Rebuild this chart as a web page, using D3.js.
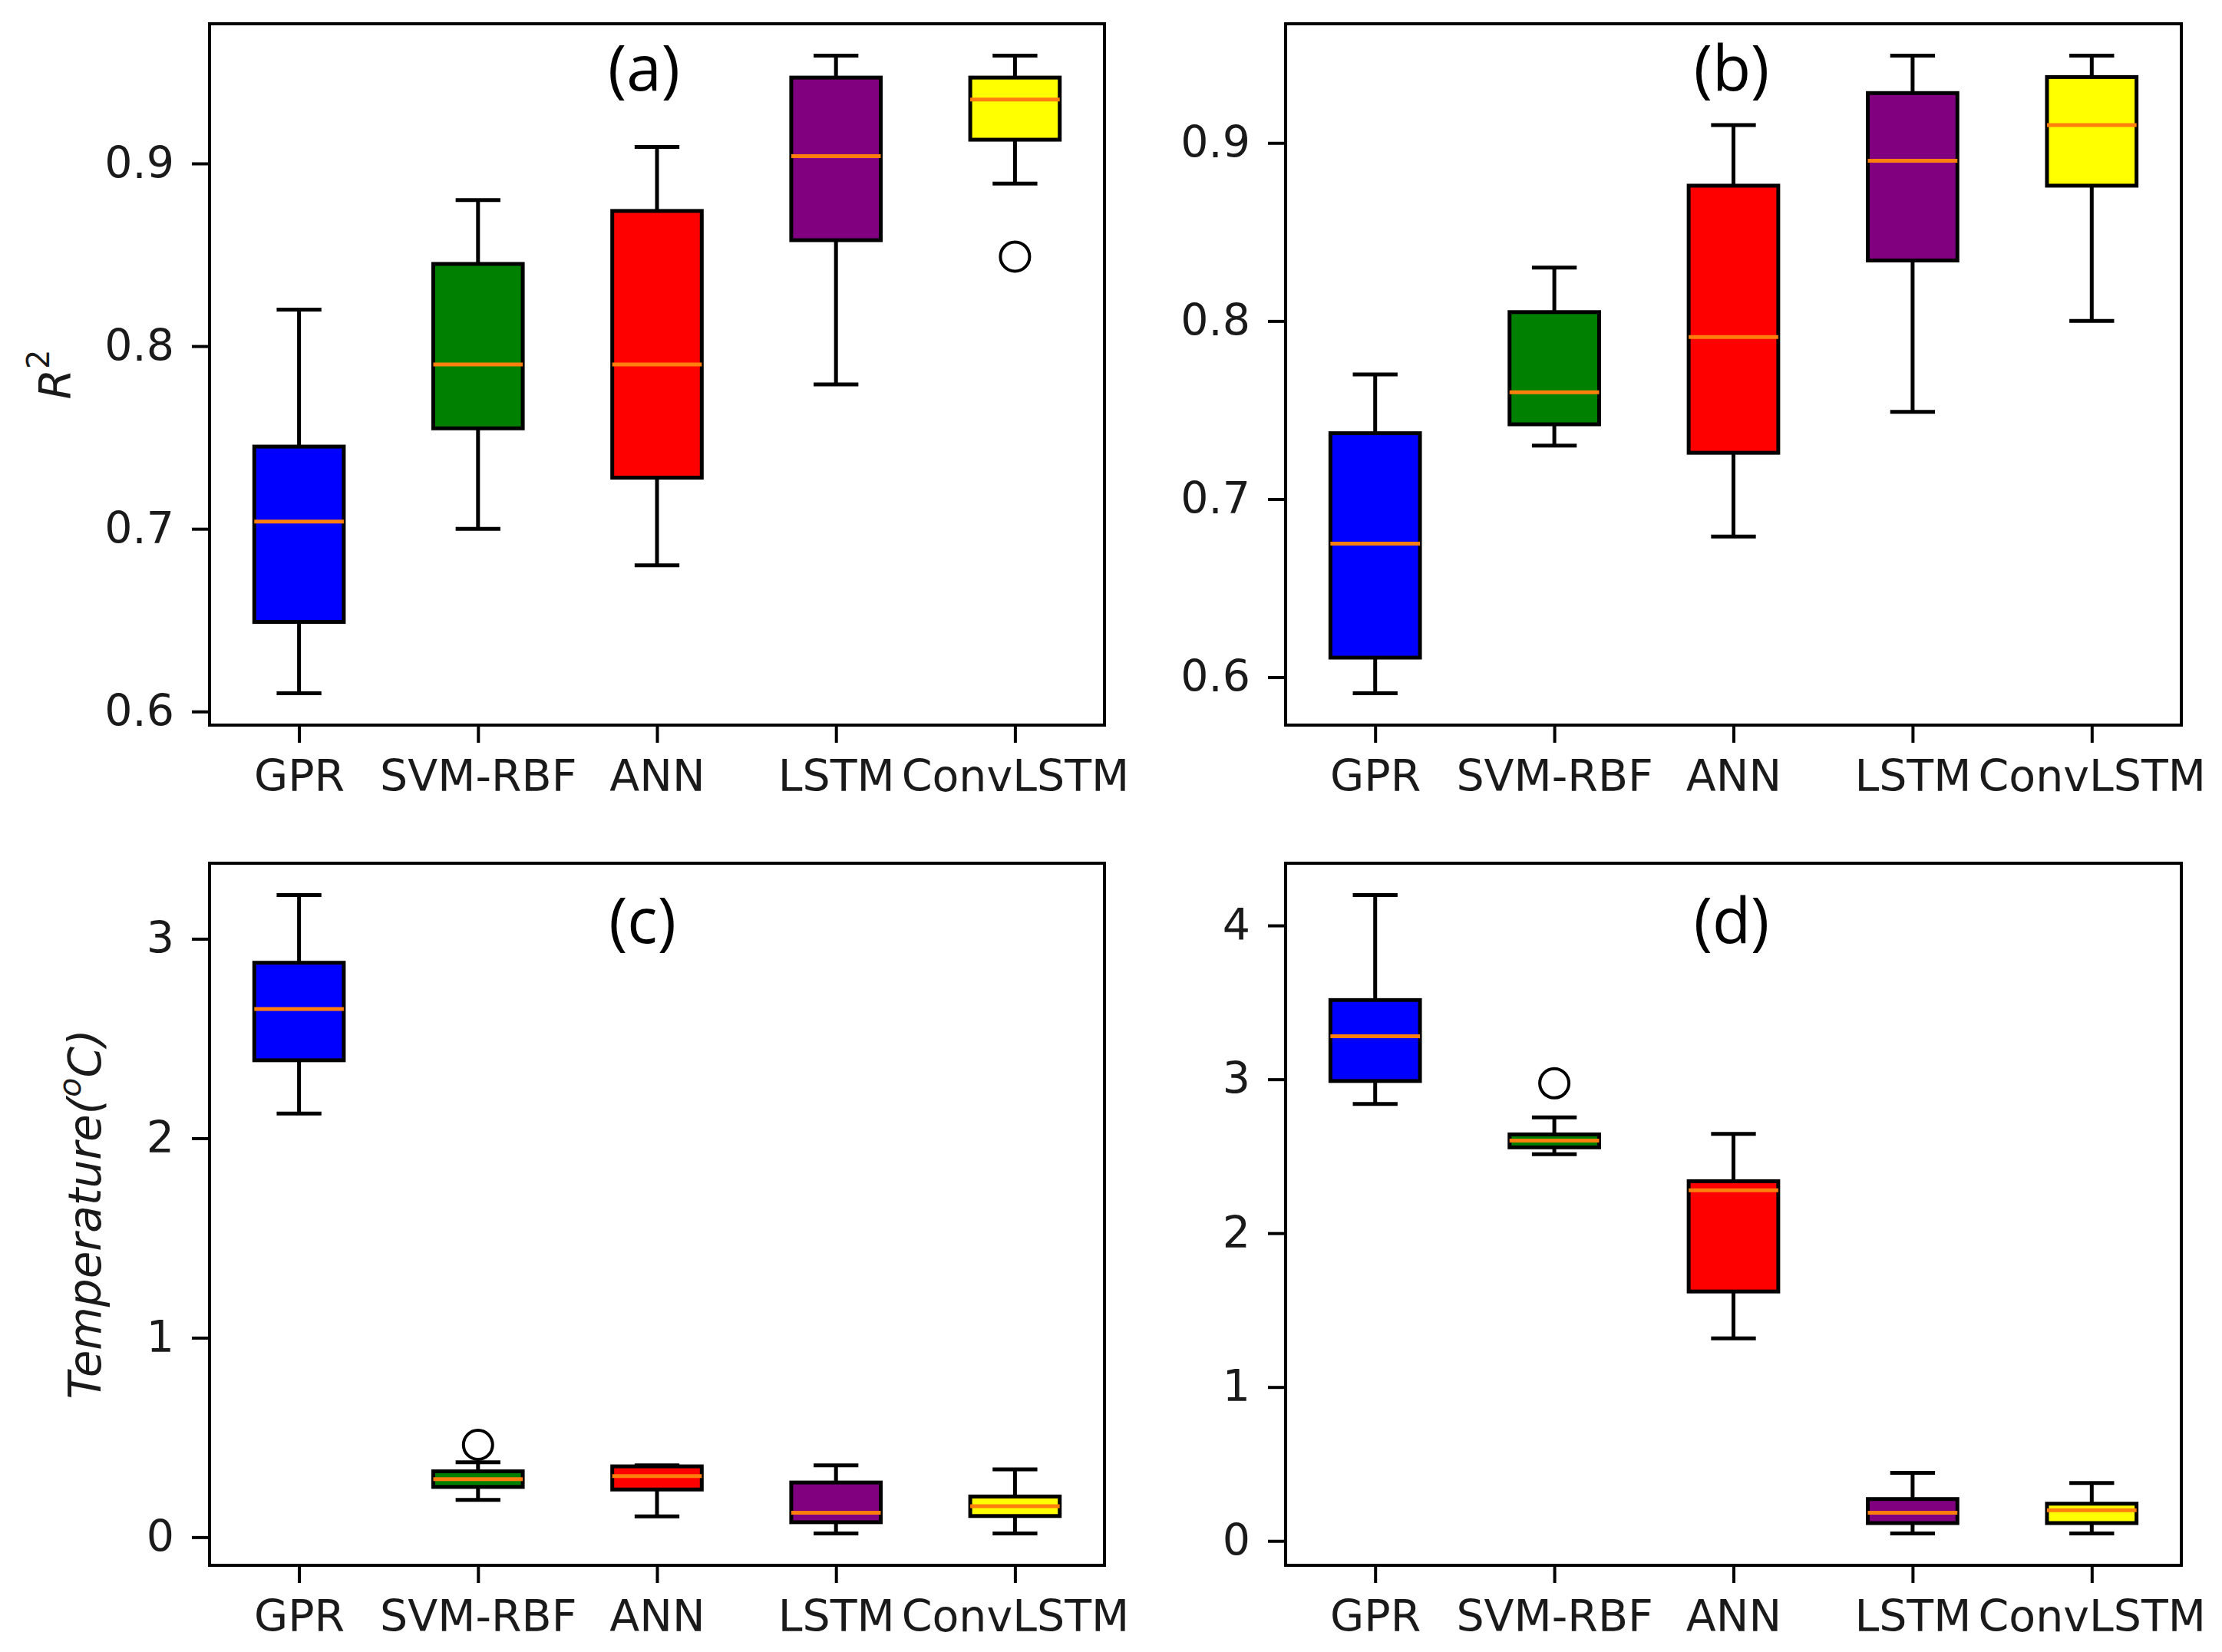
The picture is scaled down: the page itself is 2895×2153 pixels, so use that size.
<!DOCTYPE html>
<html>
<head>
<meta charset="utf-8">
<script src="https://cdn.jsdelivr.net/npm/d3@7"></script>
<style>
  body { margin: 0; background: #fff; }
  .tick text { font-family: "DejaVu Sans", sans-serif; fill: #1a1a1a; }
</style>
</head>
<body>
<div id="chart"></div>
<script>
// model names and fill colours
const models = ["GPR", "SVM-RBF", "ANN", "LSTM", "ConvLSTM"];
const boxColors = ["#0000ff", "#008000", "#ff0000", "#800080", "#ffff00"];

// five-number summaries per model: [low whisker, q1, median, q3, high whisker]
const statsA = [
    [0.610, 0.649, 0.704, 0.745, 0.820],
    [0.700, 0.755, 0.790, 0.845, 0.880],
    [0.680, 0.728, 0.790, 0.874, 0.909],
    [0.779, 0.858, 0.904, 0.947, 0.959],
    [0.889, 0.913, 0.935, 0.947, 0.959]
];
const outliersA = [[], [], [], [], [0.849]];

const statsB = [
    [0.591, 0.611, 0.675, 0.737, 0.770],
    [0.730, 0.742, 0.760, 0.805, 0.830],
    [0.679, 0.726, 0.791, 0.876, 0.910],
    [0.749, 0.834, 0.890, 0.928, 0.949],
    [0.800, 0.876, 0.910, 0.937, 0.949]
];
const outliersB = [[], [], [], [], []];

const statsC = [
    [2.124, 2.391, 2.648, 2.880, 3.219],
    [0.187, 0.252, 0.291, 0.330, 0.375],
    [0.104, 0.239, 0.306, 0.355, 0.360],
    [0.019, 0.075, 0.123, 0.274, 0.360],
    [0.019, 0.106, 0.155, 0.204, 0.340]
];
const outliersC = [[], [0.463], [], [], []];

const statsD = [
    [2.840, 2.989, 3.280, 3.515, 4.197],
    [2.513, 2.558, 2.602, 2.642, 2.753],
    [1.316, 1.621, 2.279, 2.338, 2.645],
    [0.049, 0.116, 0.183, 0.272, 0.443],
    [0.049, 0.116, 0.200, 0.242, 0.376]
];
const outliersD = [[], [2.974], [], [], []];

// y tick values
const ticksR2 = [0.6, 0.7, 0.8, 0.9];
const ticksC = [0, 1, 2, 3];
const ticksD = [0, 1, 2, 3, 4];

const panelLabels = ["(a)", "(b)", "(c)", "(d)"];

const width = 2895;
const height = 2153;

// frame boxes of the four axes, in pixels
const layout = [
    {x0: 273, x1: 1439, y0: 31, y1: 945, lx: 839, ly: 118},
    {x0: 1675, x1: 2842, y0: 31, y1: 945, lx: 2256, ly: 118},
    {x0: 273, x1: 1439, y0: 1125, y1: 2040, lx: 837, ly: 1229},
    {x0: 1675, x1: 2842, y0: 1125, y1: 2040, lx: 2256, ly: 1229}
];

const panels = [
    {stats: statsA, outliers: outliersA, ticks: ticksR2, fmt: d3.format(".1f")},
    {stats: statsB, outliers: outliersB, ticks: ticksR2, fmt: d3.format(".1f")},
    {stats: statsC, outliers: outliersC, ticks: ticksC, fmt: d3.format("d")},
    {stats: statsD, outliers: outliersD, ticks: ticksD, fmt: d3.format("d")}
];

const svg = d3.select("#chart")
    .append("svg")
    .attr("width", width)
    .attr("height", height)
    .style("background", "#fff");

panels.forEach((p, i) => {
    const box = layout[i];
    const g = svg.append("g");

    const x = d3.scalePoint()
        .domain(models)
        .range([box.x0, box.x1])
        .padding(0.5);

    // same 5% margin matplotlib puts around the data
    const allVals = p.stats.flat().concat(p.outliers.flat());
    const lo = d3.min(allVals), hi = d3.max(allVals);
    const pad = (hi - lo) * 0.05;
    const y = d3.scaleLinear()
        .domain([lo - pad, hi + pad])
        .range([box.y1, box.y0]);

    const bw = x.step() * 0.5;

    const items = g.selectAll("g.item")
        .data(p.stats.map((s, j) => ({model: models[j], s: s, out: p.outliers[j], color: boxColors[j]})))
        .enter().append("g")
        .attr("class", "item");

    // whiskers
    items.append("line")
        .attr("x1", d => x(d.model)).attr("x2", d => x(d.model))
        .attr("y1", d => y(d.s[3])).attr("y2", d => y(d.s[4]))
        .attr("stroke", "#000").attr("stroke-width", 5);
    items.append("line")
        .attr("x1", d => x(d.model)).attr("x2", d => x(d.model))
        .attr("y1", d => y(d.s[1])).attr("y2", d => y(d.s[0]))
        .attr("stroke", "#000").attr("stroke-width", 5);

    // caps
    [0, 4].forEach(k => {
        items.append("line")
            .attr("x1", d => x(d.model) - bw / 4).attr("x2", d => x(d.model) + bw / 4)
            .attr("y1", d => y(d.s[k])).attr("y2", d => y(d.s[k]))
            .attr("stroke", "#000").attr("stroke-width", 5);
    });

    // boxes
    items.append("rect")
        .attr("x", d => x(d.model) - bw / 2)
        .attr("width", bw)
        .attr("y", d => y(d.s[3]))
        .attr("height", d => y(d.s[1]) - y(d.s[3]))
        .attr("fill", d => d.color)
        .attr("stroke", "#000")
        .attr("stroke-width", 5);

    // medians
    items.append("line")
        .attr("x1", d => x(d.model) - bw / 2).attr("x2", d => x(d.model) + bw / 2)
        .attr("y1", d => y(d.s[2])).attr("y2", d => y(d.s[2]))
        .attr("stroke", "#ff7f0e").attr("stroke-width", 5);

    // fliers
    items.selectAll("circle")
        .data(d => d.out.map(v => ({model: d.model, v: v})))
        .enter().append("circle")
        .attr("cx", d => x(d.model))
        .attr("cy", d => y(d.v))
        .attr("r", 19)
        .attr("fill", "none")
        .attr("stroke", "#000")
        .attr("stroke-width", 4);

    // axes
    const xAxis = g.append("g")
        .attr("transform", `translate(0,${box.y1})`)
        .call(d3.axisBottom(x).tickSize(23).tickPadding(23));
    const yAxis = g.append("g")
        .attr("transform", `translate(${box.x0},0)`)
        .call(d3.axisLeft(y).tickValues(p.ticks).tickFormat(p.fmt).tickSize(23).tickPadding(23));

    [xAxis, yAxis].forEach(a => {
        a.select(".domain").remove();
        a.selectAll(".tick line").attr("stroke", "#000").attr("stroke-width", 4);
        a.selectAll(".tick text").attr("font-size", 57);
    });

    // frame
    g.append("rect")
        .attr("x", box.x0)
        .attr("y", box.y0)
        .attr("width", box.x1 - box.x0)
        .attr("height", box.y1 - box.y0)
        .attr("fill", "none")
        .attr("stroke", "#000")
        .attr("stroke-width", 4);

    // panel letter
    g.append("text")
        .attr("x", box.lx)
        .attr("y", box.ly)
        .attr("text-anchor", "middle")
        .attr("font-family", "'Open Sans', sans-serif")
        .attr("font-size", 82)
        .attr("fill", "#000")
        .text(panelLabels[i]);
});

// y axis titles
const r2Label = svg.append("text")
    .attr("transform", `translate(72,${(layout[0].y0 + layout[0].y1) / 2}) rotate(-90)`)
    .attr("text-anchor", "middle")
    .attr("dominant-baseline", "central")
    .attr("font-family", "'DejaVu Sans', sans-serif")
    .attr("font-size", 57)
    .attr("fill", "#1a1a1a");
r2Label.append("tspan").attr("font-style", "italic").text("R");
r2Label.append("tspan").attr("font-size", 40).attr("dy", -22).text("2");

const tLabel = svg.append("text")
    .attr("transform", `translate(111,${(layout[2].y0 + layout[2].y1) / 2}) rotate(-90)`)
    .attr("text-anchor", "middle")
    .attr("dominant-baseline", "central")
    .attr("font-family", "'DejaVu Sans', sans-serif")
    .attr("font-style", "italic")
    .attr("font-size", 58)
    .attr("fill", "#1a1a1a");
tLabel.append("tspan").text("Temperature(");
tLabel.append("tspan").attr("font-size", 41).attr("dy", -20).text("o");
tLabel.append("tspan").attr("dy", 20).text("C)");
</script>
</body>
</html>
